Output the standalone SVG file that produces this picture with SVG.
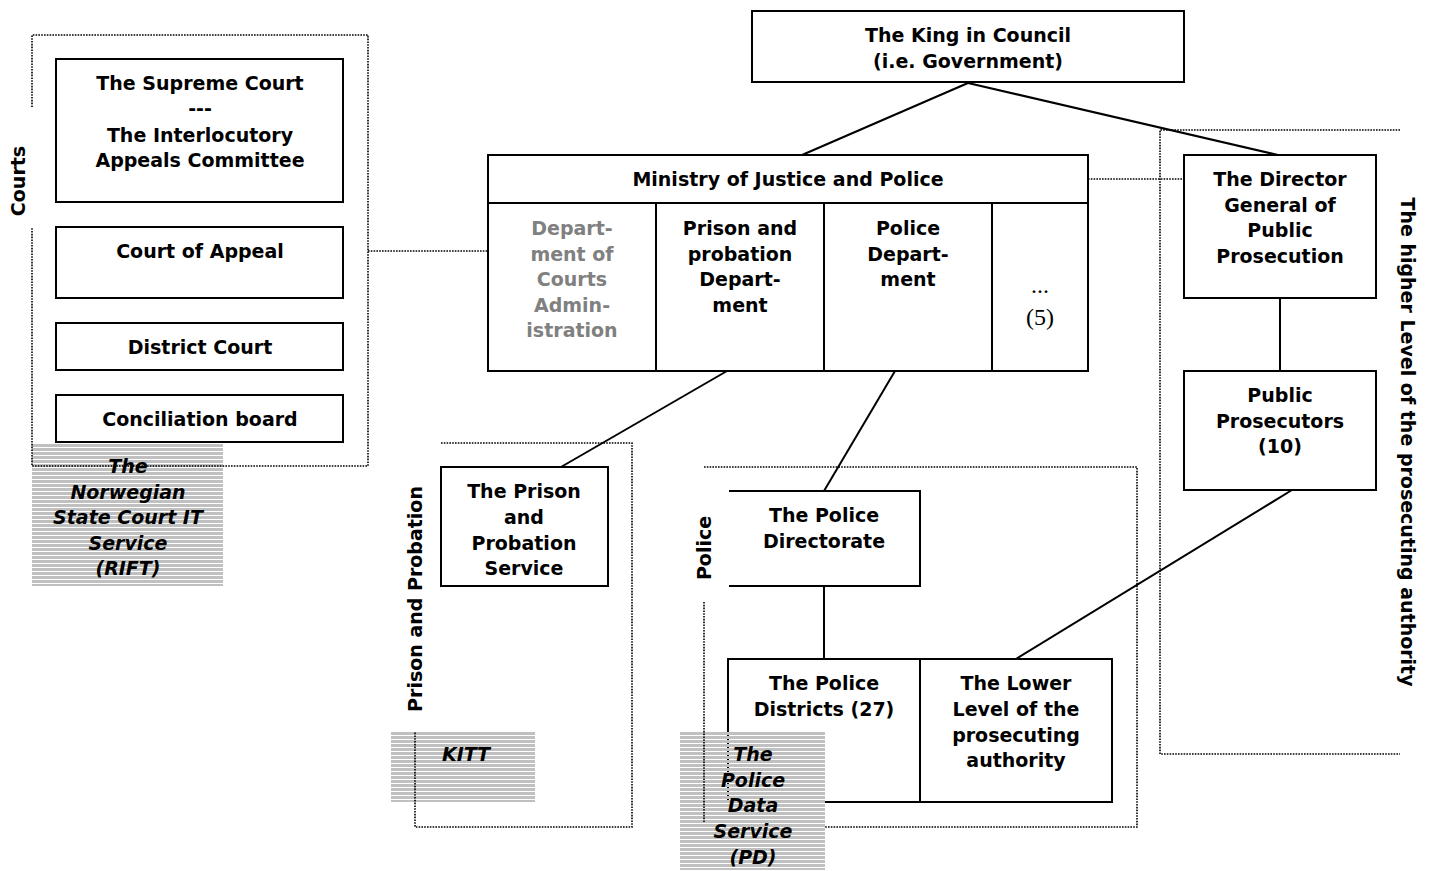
<svg xmlns="http://www.w3.org/2000/svg" width="1434" height="871" viewBox="0 0 1434 871">
<style>
.box{fill:#fff;stroke:#000;stroke-width:2}
.div{stroke:#000;stroke-width:2;fill:none}
.con{stroke:#000;stroke-width:2;fill:none}
.dot{stroke:#000;stroke-width:1.6;stroke-dasharray:1.6 1.2;fill:none}
text{font-family:"DejaVu Sans","Liberation Sans",sans-serif;font-size:19px;font-weight:bold;fill:#000;text-anchor:middle}
.it{font-style:italic}
.gray{fill:#808080}
.serif{font-family:"Liberation Serif","DejaVu Serif",serif;font-weight:normal;font-size:24px}
.hatch{fill:url(#stripes)}
</style>
<defs>
<pattern id="stripes" patternUnits="userSpaceOnUse" x="0" y="0" width="8" height="4">
<rect x="0" y="0" width="8" height="3" fill="#c0c0c0"/>
</pattern>
</defs>
<rect x="0" y="0" width="1434" height="871" fill="#fff"/>

<g id="connectors">
<line class="con" x1="968" y1="83" x2="802" y2="155"/>
<line class="con" x1="968" y1="83" x2="1278" y2="155"/>
<line class="con" x1="727" y1="371" x2="561" y2="467"/>
<line class="con" x1="895" y1="371" x2="824" y2="491"/>
<line class="con" x1="824" y1="587" x2="824" y2="659"/>
<line class="con" x1="1280" y1="298" x2="1280" y2="371"/>
<line class="con" x1="1292" y1="490" x2="1016" y2="659"/>
<line class="dot" x1="368" y1="251" x2="488" y2="251"/>
<line class="dot" x1="1088" y1="179" x2="1184" y2="179"/>
</g>

<g id="king">
<rect class="box" x="752" y="11" width="432" height="71"/>
<text x="968" y="42">The King in Council</text>
<text x="968" y="68">(i.e. Government)</text>
</g>

<g id="ministry">
<rect class="box" x="488" y="155" width="600" height="216"/>
<line class="div" x1="488" y1="203" x2="1088" y2="203"/>
<line class="div" x1="656" y1="203" x2="656" y2="371"/>
<line class="div" x1="824" y1="203" x2="824" y2="371"/>
<line class="div" x1="992" y1="203" x2="992" y2="371"/>
<text x="788" y="186">Ministry of Justice and Police</text>
<text class="gray" x="572" y="235">Depart-</text>
<text class="gray" x="572" y="261">ment of</text>
<text class="gray" x="572" y="286">Courts</text>
<text class="gray" x="572" y="312">Admin-</text>
<text class="gray" x="572" y="337">istration</text>
<text x="740" y="235">Prison and</text>
<text x="740" y="261">probation</text>
<text x="740" y="286">Depart-</text>
<text x="740" y="312">ment</text>
<text x="908" y="235">Police</text>
<text x="908" y="261">Depart-</text>
<text x="908" y="286">ment</text>
<text class="serif" x="1040" y="293">...</text>
<text class="serif" x="1040" y="325">(5)</text>
</g>

<g id="supreme-court">
<rect class="box" x="56" y="59" width="287" height="143"/>
<text x="200" y="90">The Supreme Court</text>
<text x="200" y="115">---</text>
<text x="200" y="142">The Interlocutory</text>
<text x="200" y="167">Appeals Committee</text>
</g>
<g id="court-of-appeal">
<rect class="box" x="56" y="227" width="287" height="71"/>
<text x="200" y="258">Court of Appeal</text>
</g>
<g id="district-court">
<rect class="box" x="56" y="323" width="287" height="47"/>
<text x="200" y="354">District Court</text>
</g>
<g id="conciliation-board">
<rect class="box" x="56" y="395" width="287" height="47"/>
<text x="200" y="426">Conciliation board</text>
</g>

<g id="director-general">
<rect class="box" x="1184" y="155" width="192" height="143"/>
<text x="1280" y="186">The Director</text>
<text x="1280" y="212">General of</text>
<text x="1280" y="237">Public</text>
<text x="1280" y="263">Prosecution</text>
</g>
<g id="public-prosecutors">
<rect class="box" x="1184" y="371" width="192" height="119"/>
<text x="1280" y="402">Public</text>
<text x="1280" y="428">Prosecutors</text>
<text x="1280" y="453">(10)</text>
</g>

<g id="prison-service">
<rect class="box" x="441" y="467" width="167" height="119"/>
<text x="524" y="498">The Prison</text>
<text x="524" y="524">and</text>
<text x="524" y="550">Probation</text>
<text x="524" y="575">Service</text>
</g>

<g id="police-directorate">
<rect x="729" y="491" width="191" height="95" fill="#fff"/>
<path class="div" d="M729 491 H920 V586 H729"/>
<text x="824" y="522">The Police</text>
<text x="824" y="548">Directorate</text>
</g>

<g id="police-districts">
<rect class="box" x="728" y="659" width="192" height="143"/>
<text x="824" y="690">The Police</text>
<text x="824" y="716">Districts (27)</text>
</g>
<g id="lower-level">
<rect class="box" x="920" y="659" width="192" height="143"/>
<text x="1016" y="690">The Lower</text>
<text x="1016" y="716">Level of the</text>
<text x="1016" y="742">prosecuting</text>
<text x="1016" y="767">authority</text>
</g>

<g id="rift">
<rect class="hatch" x="32" y="443" width="191" height="143"/>
<text class="it" x="128" y="473">The</text>
<text class="it" x="128" y="499">Norwegian</text>
<text class="it" x="128" y="524">State Court IT</text>
<text class="it" x="128" y="550">Service</text>
<text class="it" x="128" y="575">(RIFT)</text>
</g>
<g id="kitt">
<rect class="hatch" x="391" y="732" width="144" height="70"/>
<text class="it" x="466" y="761">KITT</text>
</g>
<g id="pd">
<rect class="hatch" x="680" y="732" width="145" height="138"/>
<text class="it" x="753" y="761">The</text>
<text class="it" x="753" y="787">Police</text>
<text class="it" x="753" y="812">Data</text>
<text class="it" x="753" y="838">Service</text>
<text class="it" x="753" y="864">(PD)</text>
</g>

<g id="courts-frame">
<path class="dot" d="M32 107 V35 H368 V466 H32 V228"/>
<text transform="translate(25,181) rotate(-90)" x="0" y="0">Courts</text>
</g>
<g id="prison-frame">
<path class="dot" d="M441 443 H632 V827 H415 V732"/>
<text transform="translate(422,599) rotate(-90)" x="0" y="0">Prison and Probation</text>
</g>
<g id="police-frame">
<path class="dot" d="M704 467 H1137 V827 H825"/>
<line class="dot" x1="704" y1="602" x2="704" y2="823"/>
<text transform="translate(711,548) rotate(-90)" x="0" y="0">Police</text>
</g>
<g id="prosecution-frame">
<path class="dot" d="M1400 130 H1160 V754 H1400"/>
<text transform="translate(1401,442) rotate(90)" x="0" y="0">The higher Level of the prosecuting authority</text>
</g>
</svg>
